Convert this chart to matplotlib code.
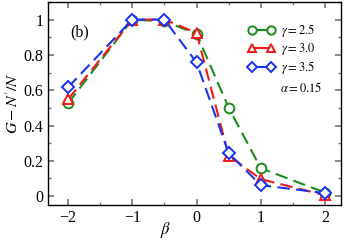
import matplotlib
matplotlib.use("Agg")
import matplotlib.pyplot as plt
from matplotlib.ticker import MultipleLocator

plt.rcParams['font.family'] = ['Liberation Serif', 'DejaVu Serif']
plt.rcParams['mathtext.fontset'] = 'stix'

beta = [-2, -1, -0.5, 0, 0.5, 1, 2]
g25 = [0.525, 1.0, 0.99, 0.92, 0.50, 0.158, 0.02]
g30 = [0.548, 1.0, 1.0, 0.925, 0.23, 0.096, 0.005]
g35 = [0.616, 1.0, 1.0, 0.757, 0.243, 0.062, 0.017]
labels = [r'$\gamma = 2.5$', r'$\gamma = 3.0$', r'$\gamma = 3.5$']

fig = plt.figure(figsize=(3.46, 2.4), dpi=100)
ax = fig.add_axes([0.139, 0.146, 0.847, 0.846])

styles = [(g25, '#1a8c1a', 'o'), (g30, '#f01818', '^'), (g35, '#1a33f0', 'D')]
for (vals, col, mk), lab in zip(styles, labels):
    ms = 6 if mk == 'D' else 7
    ax.plot(beta, vals, color=col, linestyle=(0, (6, 3)), linewidth=1.5,
            marker=mk, markersize=ms, markerfacecolor='white',
            markeredgewidth=1.4, label=lab)

ax.set_xlim(-2.31, 2.25)
ax.set_ylim(-0.05, 1.1)
ax.xaxis.set_minor_locator(MultipleLocator(0.5))
ax.yaxis.set_minor_locator(MultipleLocator(0.1))
ax.set_yticks([0, 0.2, 0.4, 0.6, 0.8, 1.0])
ax.set_yticklabels(['0', '0.2', '0.4', '0.6', '0.8', '1'])
ax.set_xticks([-2, -1, 0, 1, 2])
ax.set_xticklabels(['−2', '−1', '0', '1', '2'])
ax.tick_params(which='both', direction='in', top=True, right=True,
               labelsize=11.5, color='#777777')
ax.tick_params(which='major', length=4, width=1.2)
ax.tick_params(which='minor', length=2.5, width=1.0)
for s in ax.spines.values():
    s.set_linewidth(1.0)

ax.set_xlabel(r'$\beta$', fontsize=12)
ax.xaxis.set_label_coords(0.40, -0.075)
ax.set_ylabel(r"$G - N'/N$", fontsize=11.5, labelpad=1)
ax.text(0.075, 0.83, '(b)', transform=ax.transAxes, fontsize=11.5)
ax.text(0.935, 0.575, r'$\alpha = 0.15$', transform=ax.transAxes,
        fontsize=9, ha='right', va='center')
leg = ax.legend(loc='upper left', bbox_to_anchor=(0.683, 0.90), frameon=False,
                fontsize=9, numpoints=2, handlelength=2.1, handletextpad=0.5,
                labelspacing=0.15, borderaxespad=0, borderpad=0)
for ln in leg.get_lines():
    ln.set_linestyle('-')
    ln.set_markersize(6 if ln.get_marker() != 'D' else 5)

fig.savefig('out.png', dpi=100)
